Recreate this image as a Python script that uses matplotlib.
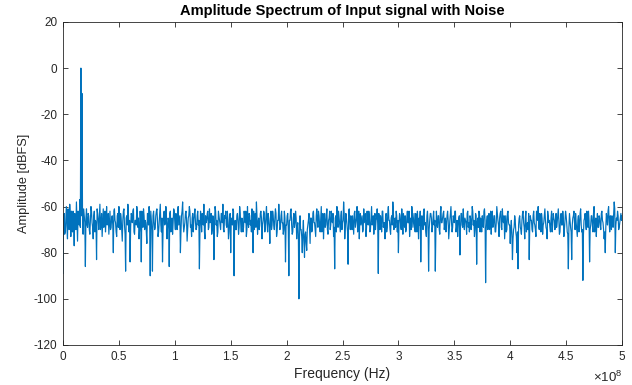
import numpy as np
import matplotlib
matplotlib.use("Agg")
import matplotlib.pyplot as plt

# Amplitude spectrum values (dBFS), bins at 1 MHz steps
amplitude_db_even = [
    -89, -63, -71, -60, -74, -66, -59, -73, -68, -62, -77, -65, -58, -75, -67, -57, 0, -11, -72, -64,
    -86, -61, -69, -64, -72, -60, -67, -74, -62, -66, -83, -63, -70, -59, -68, -73, -61, -65, -71, -60,
    -66, -72, -62, -69, -64, -80, -61, -67, -73, -63, -60, -70, -65, -75, -62, -68, -88, -64, -59, -71,
    -84, -63, -67, -61, -72, -66, -60, -69, -74, -62, -84, -65, -61, -70, -67, -76, -63, -60, -90, -66,
    -88, -62, -70, -64, -61, -73, -67, -59, -71, -84, -63, -68, -60, -74, -65, -86, -62, -69, -72, -61,
    -67, -63, -70, -60, -66, -80, -64, -58, -71, -67, -62, -75, -65, -60, -69, -73, -63, -66, -61, -70,
    -64, -68, -87, -62, -71, -65, -59, -74, -67, -63, -70, -61, -66, -72, -64, -83, -60, -68, -73, -62,
    -66, -70, -63, -59, -71, -65, -68, -62, -74, -64, -80, -67, -61, -90, -66, -70, -63, -72, -60, -68,
    -65, -71, -62, -67, -73, -60, -69, -64, -66, -61, -80, -70, -63, -58, -72, -65, -68, -62, -74, -66,
    -63, -69, -60, -71, -65, -76, -62, -68, -64, -70, -61, -73, -66, -59, -70, -64, -67, -72, -62, -84,
    -68, -63, -90, -66, -61, -72, -65, -69, -62, -74, -67, -100, -64, -70, -80, -66, -82, -71, -79, -68,
    -63, -76, -65, -70, -62, -67, -73, -61, -69, -64, -71, -60, -66, -74, -63, -68, -61, -72, -65, -70,
    -62, -67, -73, -87, -64, -60, -69, -65, -71, -62, -67, -58, -74, -63, -68, -85, -61, -70, -66, -64,
    -72, -62, -67, -60, -69, -74, -63, -66, -71, -61, -65, -73, -62, -68, -64, -70, -60, -67, -72, -63,
    -66, -61, -89, -68, -64, -71, -62, -67, -74, -63, -69, -60, -66, -72, -64, -58, -70, -65, -62, -71,
    -80, -63, -68, -61, -72, -66, -64, -70, -62, -67, -73, -65, -60, -69, -63, -71, -66, -62, -74, -68,
    -84, -64, -70, -61, -67, -73, -62, -88, -66, -63, -71, -65, -68, -88, -62, -69, -64, -72, -60, -67,
    -63, -70, -65, -68, -62, -74, -66, -60, -71, -64, -67, -62, -69, -73, -65, -81, -63, -68, -61, -70,
    -66, -72, -62, -67, -64, -70, -60, -68, -73, -63, -85, -65, -62, -71, -67, -64, -69, -61, -93, -66,
    -70, -63, -67, -72, -62, -68, -64, -71, -60, -66, -73, -63, -69, -61, -67, -74, -64, -70, -62, -68,
    -76, -66, -83, -70, -64, -71, -80, -87, -65, -69, -72, -63, -67, -74, -62, -68, -70, -83, -64, -66,
    -71, -62, -68, -73, -64, -60, -70, -66, -63, -72, -67, -61, -69, -74, -64, -66, -71, -62, -68, -65,
    -70, -63, -67, -61, -72, -65, -68, -62, -73, -66, -64, -71, -87, -63, -69, -83, -65, -62, -70, -67,
    -73, -64, -68, -61, -71, -92, -66, -63, -70, -65, -62, -84, -68, -64, -71, -60, -67, -73, -63, -69,
    -65, -70, -62, -67, -74, -80, -63, -68, -60, -71, -66, -64, -69, -58, -80, -65, -62, -70, -67, -63,
    -64,
]
# Values of the bins lying halfway between the ones above
amplitude_db_mid = [
    -66, -72, -65, -69, -61, -70, -64, -62, -71, -67, -63, -70, -66, -62, -68, -69, -64, -70, -61, -67,
    -65, -68, -63, -70, -66, -62, -69, -64, -71, -67, -61, -66, -64, -70, -63, -67, -69, -62, -66, -68,
    -63, -67, -70, -65, -68, -62, -66, -71, -64, -69, -67, -63, -70, -66, -61, -72, -65, -68, -63, -66,
    -69, -64, -62, -71, -66, -68, -63, -65, -70, -67, -62, -69, -64, -66, -71, -63, -68, -65, -62, -70,
    -64, -67, -69, -62, -66, -71, -63, -68, -65, -70, -62, -67, -64, -69, -66, -63, -71, -65, -67, -62,
    -70, -66, -63, -68, -64, -71, -62, -67, -69, -63, -66, -70, -64, -62, -68, -65, -71, -63, -67, -69,
    -62, -66, -70, -65, -63, -68, -71, -64, -66, -62, -69, -67, -63, -70, -65, -68, -62, -66, -71, -64,
    -68, -63, -67, -70, -64, -62, -69, -66, -71, -63, -65, -68, -62, -67, -70, -64, -66, -69, -63, -71,
    -66, -69, -64, -62, -70, -67, -63, -68, -71, -65, -62, -66, -69, -64, -67, -70, -63, -65, -68, -62,
    -71, -64, -67, -63, -69, -66, -70, -62, -68, -65, -63, -71, -66, -64, -69, -62, -67, -70, -65, -68,
    -64, -70, -66, -62, -68, -71, -63, -67, -65, -69, -72, -74, -70, -73, -71, -75, -72, -76, -70, -66,
    -69, -65, -71, -63, -67, -70, -64, -66, -62, -68, -65, -71, -63, -67, -69, -64, -70, -66, -62, -68,
    -66, -63, -69, -65, -71, -67, -62, -68, -64, -70, -66, -63, -69, -65, -71, -62, -67, -64, -70, -68,
    -63, -69, -65, -71, -62, -66, -68, -64, -70, -67, -63, -69, -66, -62, -71, -65, -68, -64, -67, -70,
    -65, -68, -63, -70, -66, -62, -69, -67, -64, -71, -63, -66, -70, -65, -68, -62, -67, -69, -64, -66,
    -68, -64, -70, -66, -63, -69, -71, -65, -67, -62, -68, -70, -64, -66, -69, -63, -71, -67, -65, -62,
    -69, -66, -62, -68, -71, -64, -67, -70, -63, -65, -69, -62, -66, -71, -68, -64, -70, -63, -67, -65,
    -62, -68, -71, -64, -66, -70, -63, -67, -69, -65, -62, -71, -66, -68, -64, -70, -63, -69, -67, -65,
    -67, -63, -69, -71, -65, -68, -62, -66, -70, -64, -67, -69, -63, -65, -71, -68, -62, -66, -70, -64,
    -65, -70, -62, -66, -69, -64, -71, -67, -63, -68, -65, -62, -70, -66, -64, -69, -71, -63, -67, -68,
    -70, -72, -74, -69, -66, -73, -71, -68, -64, -70, -66, -62, -69, -65, -71, -67, -63, -68, -66, -70,
    -64, -67, -70, -62, -66, -69, -63, -71, -65, -68, -64, -66, -70, -62, -67, -69, -65, -71, -63, -66,
    -67, -69, -64, -66, -71, -63, -68, -65, -70, -62, -67, -72, -69, -66, -71, -68, -64, -67, -63, -70,
    -66, -71, -63, -68, -70, -72, -65, -67, -62, -69, -66, -70, -64, -68, -63, -71, -65, -67, -69, -64,
    -68, -63, -66, -70, -71, -69, -65, -62, -67, -64, -70, -66, -63, -61, -68, -66, -64, -69, -65, -66,
]
f_max_hz = 5e8

x_tick_values = [0, 0.5e8, 1e8, 1.5e8, 2e8, 2.5e8, 3e8, 3.5e8, 4e8, 4.5e8, 5e8]
x_tick_labels = ['0', '0.5', '1', '1.5', '2', '2.5', '3', '3.5', '4', '4.5', '5']
y_tick_values = [-120, -100, -80, -60, -40, -20, 0, 20]
y_tick_labels = ['-120', '-100', '-80', '-60', '-40', '-20', '0', '20']

# interleave the two sets of bins
n_even = len(amplitude_db_even)
amplitude_db = np.empty(n_even + len(amplitude_db_mid))
amplitude_db[0::2] = amplitude_db_even
amplitude_db[1::2] = amplitude_db_mid
frequency_hz = np.linspace(0, f_max_hz, len(amplitude_db))

plt.rcParams['font.family'] = ['Liberation Sans', 'DejaVu Sans']
plt.rcParams['mathtext.fontset'] = 'custom'
plt.rcParams['mathtext.rm'] = 'Liberation Sans'
plt.rcParams['axes.unicode_minus'] = False

fig = plt.figure(figsize=(6.32, 3.85), dpi=100)
ax = fig.add_axes([0.0997, 0.1039, 0.8845, 0.8391])

ax.plot(frequency_hz, amplitude_db, color='#0072BD', linewidth=0.85)

ax.set_xlim(0, f_max_hz)
ax.set_ylim(-120, 20)
ax.set_xticks(x_tick_values)
ax.set_xticklabels(x_tick_labels)
ax.set_yticks(y_tick_values)
ax.set_yticklabels(y_tick_labels)

ax.tick_params(direction='in', length=3.5, width=0.6, top=True, right=True,
               labelsize=8.5, colors='#262626', pad=4)
for s in ax.spines.values():
    s.set_linewidth(0.6)
    s.set_color('#262626')

ax.set_title('Amplitude Spectrum of Input signal with Noise', fontsize=10.5,
             fontweight='bold', color='black', pad=5)
ax.set_xlabel('Frequency (Hz)', fontsize=10, color='#262626', labelpad=3)
ax.set_ylabel('Amplitude [dBFS]', fontsize=9.2, color='#262626', labelpad=3)

fig.text(622 / 632, 1 - 377 / 385, r'$\times\mathregular{10^{8}}$', ha='right', va='center',
         fontsize=9.5, color='#262626')

fig.savefig('out.png', dpi=100)
